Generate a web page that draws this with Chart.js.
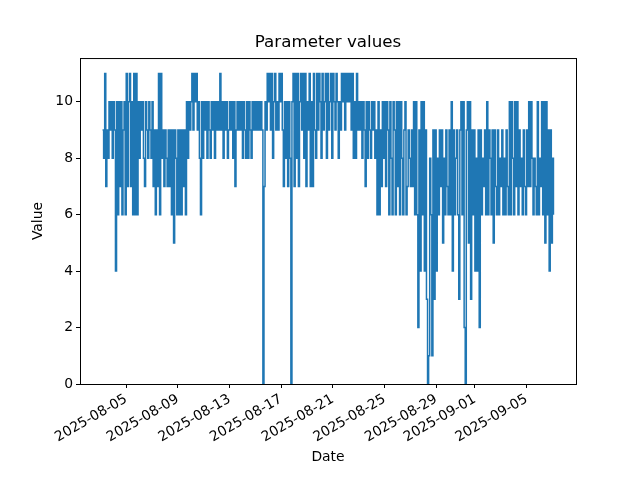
<!DOCTYPE html>
<html>
<head>
<meta charset="utf-8">
<script src="https://cdn.jsdelivr.net/npm/chart.js@4"></script>
<style>
  html, body { margin: 0; padding: 0; background: #fff; }
</style>
</head>
<body>
<canvas id="chart" width="640" height="480"></canvas>
<script>
// readings every 2 hours, starting 2025-08-03 04:00
const startTime = Date.UTC(2025, 7, 3, 4);
const stepHours = 2;

const week1 = [
  9, 8, 11, 7, 9, 8, 10, 9, 10, 8, 10, 9,
  4, 10, 6, 10, 7, 10, 6, 9, 10, 6, 11, 7,
  10, 11, 7, 10, 6, 11, 6, 11, 6, 10, 8, 10,
  9, 10, 8, 7, 10, 9, 8, 10, 9, 8, 10, 7,
  9, 6, 9, 7, 11, 6, 11, 8, 9, 7, 9, 8,
  7, 9, 7, 9, 6, 9, 5, 9, 8, 6, 9, 6,
  9, 6, 9, 7, 9, 6, 10, 8, 10, 9, 10, 11
];
const week2 = [
  9, 11, 10, 11, 9, 10, 8, 6, 10, 8, 10, 9,
  10, 8, 10, 9, 8, 10, 9, 10, 8, 10, 9, 10,
  9, 11, 9, 10, 8, 10, 9, 10, 8, 9, 10, 9,
  10, 8, 10, 7, 9, 10, 9, 10, 9, 10, 8, 10,
  9, 8, 10, 8, 10, 9, 8, 10, 9, 10, 9, 10,
  9, 10, 9, 10, 9, 0, 7, 10, 9, 11, 10, 11,
  9, 11, 8, 10, 11, 9, 10, 9, 11, 10, 11, 9
];
const week3 = [
  7, 10, 8, 10, 7, 10, 8, 0, 10, 11, 7, 11,
  8, 11, 7, 10, 11, 9, 11, 8, 11, 7, 10, 9,
  11, 7, 10, 7, 11, 9, 8, 11, 9, 11, 10, 8,
  11, 9, 10, 11, 8, 11, 9, 10, 11, 8, 11, 10,
  9, 11, 10, 8, 10, 9, 11, 10, 11, 9, 11, 10,
  11, 10, 11, 9, 11, 8, 10, 8, 11, 9, 10, 9,
  10, 8, 10, 9, 7, 10, 8, 10, 9, 8, 10, 9
];
const week4 = [
  10, 8, 9, 6, 10, 6, 9, 7, 10, 8, 10, 7,
  10, 9, 6, 10, 8, 6, 10, 9, 6, 10, 7, 10,
  6, 10, 8, 6, 9, 10, 6, 7, 9, 8, 7, 9,
  7, 10, 6, 10, 6, 2, 9, 4, 10, 6, 10, 4,
  9, 3, 0, 1, 8, 6, 1, 9, 3, 9, 4, 8,
  6, 9, 7, 9, 5, 8, 6, 9, 7, 6, 9, 6,
  10, 4, 9, 6, 8, 9, 6, 3, 9, 10, 6, 10
];
const week5 = [
  2, 0, 9, 10, 5, 10, 3, 9, 6, 9, 4, 8,
  4, 9, 2, 9, 6, 8, 7, 9, 6, 10, 6, 9,
  8, 6, 9, 5, 9, 7, 6, 9, 6, 8, 7, 9,
  6, 8, 6, 9, 7, 6, 10, 6, 10, 8, 6, 10,
  7, 10, 6, 9, 7, 8, 6, 9, 7, 6, 9, 7,
  10, 7, 10, 8, 6, 8, 7, 6, 10, 6, 8, 7,
  10, 6, 10, 5, 10, 6, 9, 4, 9, 5, 8, 6
];

const xTickLabels = ['2025-08-05', '2025-08-09', '2025-08-13', '2025-08-17', '2025-08-21',
                     '2025-08-25', '2025-08-29', '2025-09-01', '2025-09-05'];
const yTickValues = [0, 2, 4, 6, 8, 10];

const values = [...week1, ...week2, ...week3, ...week4, ...week5];
const points = values.map((v, i) => ({ x: startTime + i * stepHours * 3600 * 1000, y: v }));

// 5% margin on both sides, like the original plot
const tFirst = points[0].x;
const tLast = points[points.length - 1].x;
const tPad = (tLast - tFirst) * 0.05;

const font = { family: 'DejaVu Sans', size: 13.9 };

// box around the plot area
const frame = {
    id: 'frame',
    afterDraw(chart) {
        const { ctx, chartArea: a } = chart;
        ctx.save();
        ctx.strokeStyle = '#000';
        ctx.lineWidth = 1;
        ctx.strokeRect(a.left + 0.5, a.top + 0.5, a.right - a.left, a.bottom - a.top);
        ctx.restore();
    }
};

new Chart(document.getElementById('chart'), {
    type: 'line',
    data: {
        datasets: [{
            label: 'Value',
            data: points,
            borderColor: '#1f77b4',
            borderWidth: 1.5,
            pointRadius: 0,
            stepped: true,
            fill: false
        }]
    },
    options: {
        responsive: false,
        animation: false,
        devicePixelRatio: 1,
        // left padding puts the title centre over the plot area
        layout: { padding: { left: 16, right: 0, top: 0, bottom: 0 } },
        plugins: {
            legend: { display: false },
            tooltip: { enabled: false },
            title: {
                display: true,
                text: 'Parameter values',
                color: '#000',
                font: { family: 'DejaVu Sans', size: 16.7, weight: 'normal' },
                padding: { top: 33, bottom: 5 }
            }
        },
        scales: {
            x: {
                type: 'linear',
                min: tFirst - tPad,
                max: tLast + tPad,
                afterBuildTicks: (scale) => {
                    scale.ticks = xTickLabels.map(s => ({ value: Date.parse(s) }));
                },
                afterFit: (scale) => { scale.height = 96; },
                ticks: {
                    autoSkip: false,
                    minRotation: 30,
                    maxRotation: 30,
                    color: '#000',
                    font: font,
                    padding: 3,
                    callback: (v) => new Date(v).toISOString().slice(0, 10)
                },
                grid: { drawOnChartArea: false, tickLength: 4, color: '#000' },
                border: { color: '#000' },
                title: { display: true, text: 'Date', color: '#000', font: font, padding: { bottom: 14 } }
            },
            y: {
                min: 0,
                max: 11.55,
                afterBuildTicks: (scale) => {
                    scale.ticks = yTickValues.map(v => ({ value: v }));
                },
                afterFit: (scale) => { scale.width = 64; },
                ticks: { color: '#000', font: font, padding: 3 },
                grid: { drawOnChartArea: false, tickLength: 4, color: '#000' },
                border: { color: '#000' },
                title: { display: true, text: 'Value', color: '#000', font: font, padding: { top: 14 } }
            },
            // empty right-hand axis, keeps the right margin
            yRight: {
                position: 'right',
                min: 0,
                max: 11.55,
                afterFit: (scale) => { scale.width = 64; },
                ticks: { display: false },
                grid: { display: false },
                border: { display: false }
            }
        }
    },
    plugins: [frame]
});
</script>
</body>
</html>
